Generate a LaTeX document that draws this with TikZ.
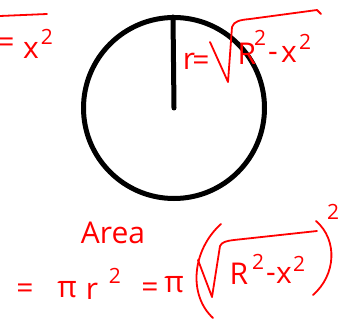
\documentclass[tikz,border=0pt]{standalone}
\usepackage{fontspec}
\setmainfont{Open Sans}
\begin{document}
\begin{tikzpicture}[x=1pt,y=-1pt,
  hw/.style={text=red,font=\fontsize{30}{30}\selectfont,inner sep=0pt,anchor=center},
  hs/.style={text=red,font=\fontsize{21}{21}\selectfont,inner sep=0pt,anchor=center},
  ink/.style={draw=red,line width=1.8pt,line cap=round,line join=round},
  bold/.style={draw=black,line width=5pt,line cap=round}]
\useasboundingbox (0,0) rectangle (342,320);
% circle and radius
\node[circle,draw=black,line width=5pt,minimum size=181pt,inner sep=0pt] (c) at (174,108) {};
\coordinate (top) at (173,17);
\draw[bold] (top) -- (c.center);
% top-left fragment
\coordinate (tl1) at (0,16);
\coordinate (tl2) at (47,14);
\draw[ink] (tl1) -- (tl2);
\node[hw] (eqa) at (6,45) {=};
\node[hw] (xa) at (31,50) {x};
\node[hs] (xa2) at (47,37) {2};
% top-right: r = sqrt(R^2 - x^2)
\node[hw] (r1) at (189,61) {r};
\node[hw] (eq1) at (201,63) {=};
\coordinate (s1a) at (210,42);
\coordinate (s1b) at (228,82);
\coordinate (s1c) at (232,27);
\coordinate (s1d) at (317,10);
\coordinate (s1e) at (321,14);
\draw[ink] (s1a) -- (s1b) -- (s1c) .. controls (234,21) and (240,20) .. (250,19) -- (s1d) -- (s1e);
\node[hw] (R1) at (247,54) {R};
\node[hs] (R1s) at (260,38) {2};
\node[hw] (m1) at (273,57) {-};
\node[hw] (x1) at (289,54) {x};
\node[hs] (x1s) at (305,42) {2};
% Area
\node[hw] (area) at (113,233) {Area};
% bottom line
\node[hw] (eq2) at (25,291) {=};
\node[hw] (pi1) at (67,290) {π};
\node[hw] (r2) at (92,291) {r};
\node[hs] (r2s) at (115,276) {2};
\node[hw] (eq3) at (150,290) {=};
\node[hw] (pi2) at (174,285) {π};
\coordinate (pa) at (221,224);
\coordinate (pb) at (213,318);
\draw[ink] (pa) .. controls (192,250) and (188,295) .. (pb);
\coordinate (s2a) at (198,260);
\coordinate (s2b) at (212,297);
\coordinate (s2c) at (220,246);
\coordinate (s2d) at (317,231);
\draw[ink] (s2a) -- (s2b) -- (s2c) .. controls (222,242) and (226,241) .. (234,240) -- (s2d);
\node[hw] (R2) at (239,274) {R};
\node[hs] (R2s) at (258,262) {2};
\node[hw] (m2) at (271,278) {-};
\node[hw] (x2) at (284,275) {x};
\node[hs] (x2s) at (299,264) {2};
\coordinate (qa) at (316,221);
\coordinate (qb) at (313,295);
\draw[ink] (qa) .. controls (338,240) and (336,275) .. (qb);
\node[hs] (sq) at (333,212) {2};
\end{tikzpicture}
\end{document}
